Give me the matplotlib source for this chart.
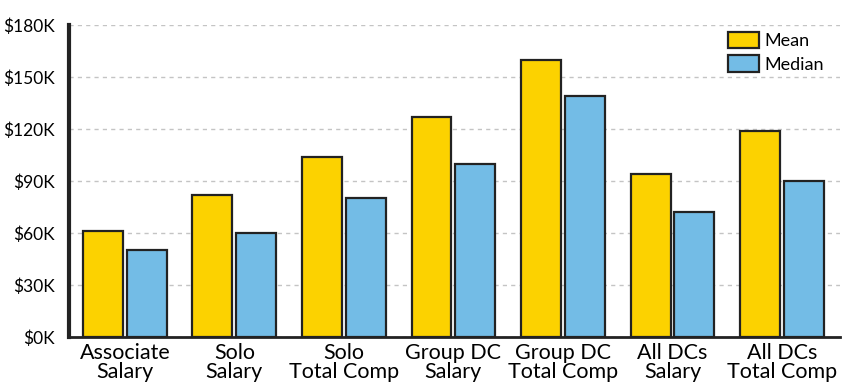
import numpy as np
import matplotlib.pyplot as plt
from matplotlib.ticker import FuncFormatter

plt.rcParams['font.family'] = ['Lato', 'DejaVu Sans']

# compensation figures in thousands of dollars
categories = ['Associate\nSalary', 'Solo\nSalary', 'Solo\nTotal Comp', 'Group DC\nSalary',
              'Group DC\nTotal Comp', 'All DCs\nSalary', 'All DCs\nTotal Comp']
mean_vals = [61, 82, 104, 127, 160, 94, 119]
median_vals = [50, 60, 80, 100, 139, 72, 90]

x = np.arange(len(categories))
w = 0.365

fig = plt.figure(figsize=(8.44, 3.9), dpi=100)
ax = fig.add_axes([69/844, 1 - 337/390, (840-69)/844, (337-25)/390])

ax.bar(x - 0.2, mean_vals, w, color='#FCD200', edgecolor='#222222', linewidth=1.6,
       label='Mean', zorder=3)
ax.bar(x + 0.2, median_vals, w, color='#73BCE6', edgecolor='#222222', linewidth=1.6,
       label='Median', zorder=3)

ax.set_xlim(-0.51, 6.53)
ax.set_ylim(0, 180)
ax.set_yticks(np.arange(0, 181, 30))
ax.yaxis.set_major_formatter(FuncFormatter(lambda v, p: '$%dK' % v))
ax.set_xticks(x)
ax.set_xticklabels(categories, fontsize=15.5, linespacing=0.95)
ax.tick_params(axis='y', labelsize=12.5, length=0, pad=10)
ax.tick_params(axis='x', length=0, pad=4)

ax.yaxis.grid(True, linestyle=(0, (3, 3)), color='#c4c4c4', linewidth=1, zorder=0)
for s in ['top', 'right']:
    ax.spines[s].set_visible(False)
ax.spines['left'].set_linewidth(3)
ax.spines['left'].set_color('#222222')
ax.spines['bottom'].set_linewidth(2)
ax.spines['bottom'].set_color('#222222')

leg = ax.legend(loc='upper right', bbox_to_anchor=(1.0, 1.03), frameon=False, fontsize=13,
                handlelength=1.7, handleheight=1.0, handletextpad=0.3, labelspacing=0.35)

fig.savefig('out.png', dpi=100)
